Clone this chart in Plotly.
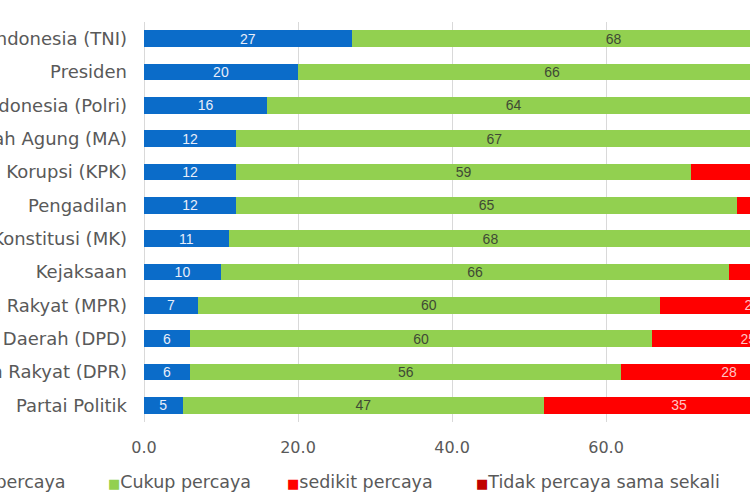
import plotly.graph_objects as go

categories = [
    "Tentara Nasional Indonesia (TNI)",
    "Presiden",
    "Kepolisian Negara Republik Indonesia (Polri)",
    "Mahkamah Agung (MA)",
    "Komisi Pemberantasan Korupsi (KPK)",
    "Pengadilan",
    "Mahkamah Konstitusi (MK)",
    "Kejaksaan",
    "Majelis Permusyawaratan Rakyat (MPR)",
    "Dewan Perwakilan Daerah (DPD)",
    "Dewan Perwakilan Rakyat (DPR)",
    "Partai Politik",
]
sangat_percaya = [27, 20, 16, 12, 12, 12, 11, 10, 7, 6, 6, 5]
cukup_percaya = [68, 66, 64, 67, 59, 65, 68, 66, 60, 60, 56, 47]
sedikit_percaya = [4, 11, 15, 16, 22, 18, 17, 19, 24, 25, 28, 35]
tidak_percaya = [1, 2, 3, 2, 4, 3, 2, 3, 4, 4, 5, 8]
series_names = ["Sangat percaya", "Cukup percaya", "sedikit percaya", "Tidak percaya sama sekali"]
x_ticks = [0, 20, 40, 60, 80]
x_tick_labels = ["0.0", "20.0", "40.0", "60.0", "80.0"]

colors = ["#0b6cc9", "#92d050", "#ff0000", "#c00000"]
label_colors = ["#e8eefa", "#3f4a35", "#ffc4c4", "#ffd0d0"]
FONT = "DejaVu Sans"
GRAY = "#595959"

fig = go.Figure()
for name, vals, c, lc in zip(series_names,
                             [sangat_percaya, cukup_percaya, sedikit_percaya, tidak_percaya],
                             colors, label_colors):
    fig.add_trace(go.Bar(
        y=categories, x=vals, name=name, orientation="h",
        marker=dict(color=c, line=dict(width=0)),
        text=vals, texttemplate="%{text}", textposition="inside",
        insidetextanchor="middle", textangle=0, constraintext="none",
        textfont=dict(family="Liberation Sans", size=14, color=lc),
        showlegend=False,
    ))

fig.update_layout(
    barmode="stack",
    bargap=0.5,
    width=750, height=500,
    margin=dict(l=144, r=0, t=22, b=78, autoexpand=False),
    plot_bgcolor="white", paper_bgcolor="white",
    font=dict(family=FONT, color=GRAY),
    xaxis=dict(
        range=[0, 78.7], tickvals=x_ticks, ticktext=x_tick_labels,
        showgrid=True, gridcolor="#d9d9d9", gridwidth=1,
        zeroline=True, zerolinecolor="#d9d9d9", zerolinewidth=1,
        showline=False, ticks="", ticklabelstandoff=14,
        tickfont=dict(family=FONT, size=16, color=GRAY),
    ),
    yaxis=dict(
        categoryorder="array", categoryarray=categories, autorange="reversed",
        showgrid=False, showline=False, ticks="", ticklabelstandoff=16,
        tickfont=dict(family=FONT, size=18, color=GRAY),
    ),
)

# legend drawn as annotations (positions as in the reference)
leg_x = [(-0.125, "right"), (-0.062, "left"), (0.232, "left"), (0.545, "left")]
for (lx, anchor), name, c in zip(leg_x, series_names, colors):
    fig.add_annotation(
        xref="paper", yref="paper", x=lx, y=-0.15, xanchor=anchor, yanchor="middle",
        showarrow=False,
        text=f'<span style="color:{c};font-size:13px">■</span>{name}',
        font=dict(family=FONT, size=17.5, color=GRAY),
    )

fig.write_html(
    "out.html",
    config={"displayModeBar": False},
    post_script="document.body.style.margin='0';document.body.style.overflow='hidden';",
)
